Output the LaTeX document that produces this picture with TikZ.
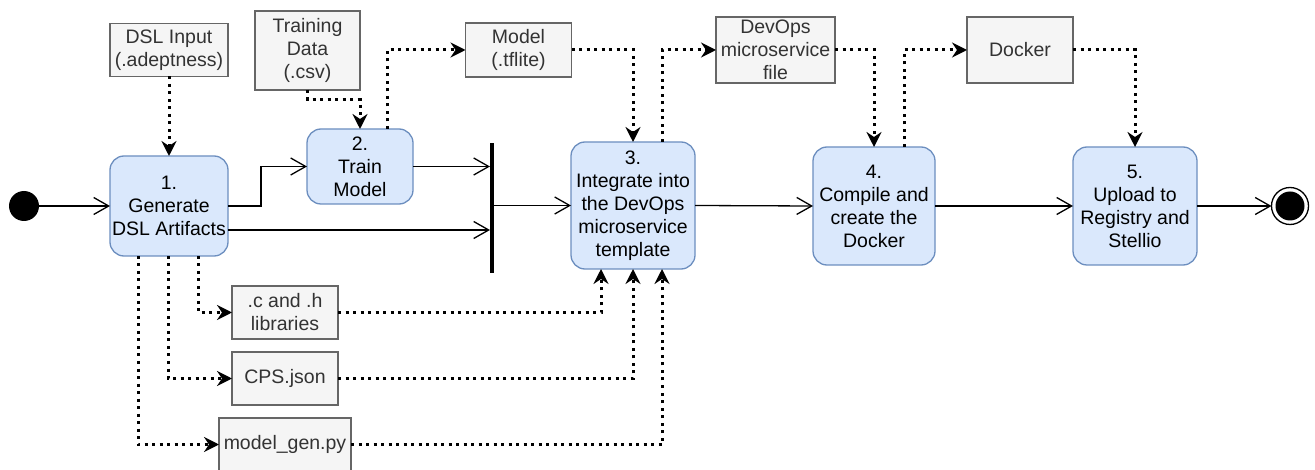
\documentclass[tikz,border=0pt]{standalone}
\usepackage{fontspec}
\setmainfont{Liberation Sans}
\usetikzlibrary{arrows.meta,calc}
\definecolor{bfill}{HTML}{DAE8FC}
\definecolor{bdraw}{HTML}{6C8EBF}
\definecolor{gfill}{HTML}{F5F5F5}
\definecolor{gdraw}{HTML}{666666}
\definecolor{gtext}{HTML}{333333}
\tikzset{
  stepnode/.style={draw=bdraw, fill=bfill, line width=1.3pt, rounded corners=14pt,
    inner sep=0pt, outer sep=0pt, align=center, font=\fontsize{19.5}{23}\selectfont},
  artbox/.style={draw=gdraw, fill=gfill, line width=1.3pt, inner sep=0pt, outer sep=0pt,
    align=center, text=gtext, font=\fontsize{19.5}{23}\selectfont},
  flow/.style={line width=1.3pt, -{Straight Barb[length=15pt,width=17pt,line width=1.3pt]}},
  dotflow/.style={line width=3pt, dash pattern=on 3pt off 4.5pt,
    -{Stealth[length=15pt,width=15pt,inset=5pt]}},
}
\begin{document}
\begin{tikzpicture}[x=1pt,y=-1pt]
\useasboundingbox (0,0) rectangle (1315,470);
% main nodes
\node[circle, fill=black, minimum size=30pt, inner sep=0pt, outer sep=0pt] (start) at (24,206) {};
\node[stepnode, minimum width=118pt, minimum height=100pt] (n1) at (169,206) {1.\\Generate\\DSL Artifacts};
\node[stepnode, minimum width=106pt, minimum height=75pt] (n2) at (360,166.5) {2.\\Train\\Model};
\node[fill=black, minimum width=4pt, minimum height=130pt, inner sep=0pt, outer sep=0pt] (bar) at (492,208) {};
\node[stepnode, minimum width=124pt, minimum height=127pt] (n3) at (633,205.5) {3.\\Integrate into\\the DevOps\\microservice\\template};
\node[stepnode, minimum width=122pt, minimum height=118pt] (n4) at (874,206) {4.\\Compile and\\create the\\Docker};
\node[stepnode, minimum width=124pt, minimum height=118pt] (n5) at (1135,206) {5.\\Upload to\\Registry and\\Stellio};
\node[circle, draw=black, fill=white, line width=1.3pt, minimum size=37pt, inner sep=0pt, outer sep=0pt] (end) at (1290,206) {};
\node[circle, fill=black, minimum size=29pt, inner sep=0pt] (endin) at (end.center) {};
% artifacts
\node[artbox, minimum width=118pt, minimum height=53pt] (dsl) at (169,50) {DSL Input\\(.adeptness)};
\node[artbox, minimum width=105pt, minimum height=79pt] (train) at (307.5,50.5) {Training\\Data\\(.csv)};
\node[artbox, minimum width=106pt, minimum height=54pt] (model) at (518.5,50) {Model\\(.tflite)};
\node[artbox, minimum width=119pt, minimum height=66pt] (devops) at (775.5,50) {DevOps\\microservice\\file};
\node[artbox, minimum width=106pt, minimum height=66pt] (docker) at (1020,50) {Docker};
\node[artbox, minimum width=106pt, minimum height=53pt] (clib) at (285,312.5) {.c and .h\\libraries};
\node[artbox, minimum width=106pt, minimum height=53pt] (cps) at (285,378.5) {CPS.json};
\node[artbox, minimum width=132pt, minimum height=53pt] (mgen) at (285,444.5) {model\_gen.py};
% helper points
\coordinate (n1low) at ($(n1.east)+(0,24)$);
% control flow
\draw[flow] (start.east) -- (n1.west);
\draw[flow] (n1.east) -- ++(33,0) |- (n2.west);
\draw[flow] (n1low) -- (n1low -| bar.west);
\draw[flow] (n2.east) -- (n2.east -| bar.west);
\draw[flow] (bar.east |- n3.west) -- (n3.west);
\draw[flow] (n3.east) -- (n4.west);
\draw[flow] (n4.east) -- (n5.west);
\draw[flow] (n5.east) -- (end.west);
% object flow
\draw[dotflow] (dsl.south) -- (n1.north);
\draw[dotflow] (train.south) -- ++(0,10) -| (n2.north);
\draw[dotflow] ($(n2.north)+(27,0)$) |- (model.west);
\draw[dotflow] (model.east) -| (n3.north);
\draw[dotflow] ($(n3.north)+(29,0)$) |- (devops.west);
\draw[dotflow] (devops.east) -| (n4.north);
\draw[dotflow] ($(n4.north)+(30,0)$) |- (docker.west);
\draw[dotflow] (docker.east) -| (n5.north);
\draw[dotflow] ($(n1.south)+(29,0)$) |- (clib.west);
\draw[dotflow] ($(n1.south)+(-1,0)$) |- (cps.west);
\draw[dotflow] ($(n1.south)+(-31,0)$) |- (mgen.west);
\draw[dotflow] (clib.east) -| ($(n3.south)+(-32,0)$);
\draw[dotflow] (cps.east) -| (n3.south);
\draw[dotflow] (mgen.east) -| ($(n3.south)+(29,0)$);
\end{tikzpicture}
\end{document}
